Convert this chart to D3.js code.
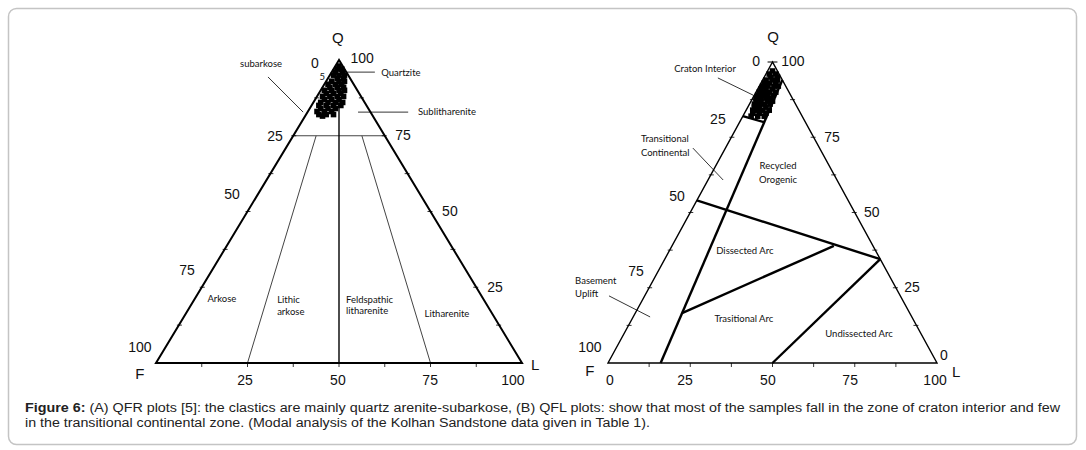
<!DOCTYPE html>
<html>
<head>
<meta charset="utf-8">
<script src="https://cdnjs.cloudflare.com/ajax/libs/d3/7.8.5/d3.min.js"></script>
<style>
  body { margin: 0; background: #fff; }
  svg { display: block; }
</style>
</head>
<body>
<div id="chart"></div>
<script>
// ---- data: QFR plot (A), percentages Q / F / R
var qfrQ = [98, 97, 97, 96, 96, 95, 95, 95, 94, 94, 93, 93, 93, 92, 92, 92, 91, 91, 91, 90, 90, 90, 90, 89, 89, 89, 88, 88, 88, 88, 87, 87, 87, 86, 86, 86, 86, 85, 85, 85, 85, 84, 84, 84, 83, 83, 83, 82, 82, 82, 81.5];
var qfrF = [1, 2, 0.75, 3, 1, 2.5, 1, 4, 3.5, 1.75, 5.5, 3.5, 2, 7, 5, 3.25, 7, 5, 3.25, 9, 7, 5, 3.5, 9, 7, 5, 10.5, 8.5, 6.5, 4.75, 10.5, 8.5, 6.5, 12, 10, 8, 6, 13, 11, 9, 7, 13, 11, 9, 14.5, 12.5, 10.5, 14.5, 12.5, 10.5, 13.75];
var qfrR = [1, 1, 2.25, 1, 3, 2.5, 4, 1, 2.5, 4.25, 1.5, 3.5, 5, 1, 3, 4.75, 2, 4, 5.75, 1, 3, 5, 6.5, 2, 4, 6, 1.5, 3.5, 5.5, 7.25, 2.5, 4.5, 6.5, 2, 4, 6, 8, 2, 4, 6, 8, 3, 5, 7, 2.5, 4.5, 6.5, 3.5, 5.5, 7.5, 4.75];

// ---- data: QFL plot (B), percentages Q / F / L
var qflQ = [97, 96, 96, 95, 95, 94, 94, 94, 93, 93, 93, 92, 92, 92, 92, 91, 91, 91, 90, 90, 90, 90, 89, 89, 89, 89, 88, 88, 88, 88, 87, 87, 87, 87, 86, 86, 86, 86, 85, 85, 85, 84, 84, 84, 84, 83, 83, 83, 82, 82, 82];
var qflF = [1.5, 3, 1, 3, 1, 5, 3, 1.5, 6, 4.5, 2.5, 7, 5.5, 3.5, 2.25, 8, 6.5, 4.5, 9, 7.5, 6, 4, 10, 8.5, 7, 5.25, 11, 9.5, 8, 6.5, 11.5, 10, 8, 6.5, 12.5, 11, 9.5, 7.75, 13, 11.5, 9.5, 14, 12.5, 11, 9, 14.5, 12.5, 10.5, 15.5, 13.5, 11.5];
var qflL = [1.5, 1, 3, 2, 4, 1, 3, 4.5, 1, 2.5, 4.5, 1, 2.5, 4.5, 5.75, 1, 2.5, 4.5, 1, 2.5, 4, 6, 1, 2.5, 4, 5.75, 1, 2.5, 4, 5.5, 1.5, 3, 5, 6.5, 1.5, 3, 4.5, 6.25, 2, 3.5, 5.5, 2, 3.5, 5, 7, 2.5, 4.5, 6.5, 2.5, 4.5, 6.5];

// field boundaries, [Q, F, L] at each end
var qfrBounds = [
  [[75, 25, 0], [75, 0, 25]],
  [[95, 2.5, 2.5], [0, 50, 50]],
  [[75, 18.75, 6.25], [0, 75, 25]],
  [[75, 6.25, 18.75], [0, 25, 75]]
];
var qflBounds = [
  [[94, 0, 6], [0, 84, 16]],
  [[82, 18, 0], [80, 12.6, 7.4]],
  [[54, 46, 0], [34.5, 0, 65.5]],
  [[16.6, 69.2, 14.2], [38.9, 11.9, 49.2]],
  [[34.5, 0, 65.5], [0, 50, 50]]
];

var tickValues = [12.5, 25, 37.5, 50, 62.5, 75, 87.5];
var tickLabels = ["0", "25", "50", "75", "100"];

var caption1 = "(A) QFR plots [5]: the clastics are mainly quartz arenite-subarkose, (B) QFL plots: show that most of the samples fall in the zone of craton interior and few";
var caption2 = "in the transitional continental zone. (Modal analysis of the Kolhan Sandstone data given in Table 1).";

// ---- layout
var W = 1086, H = 450;
var numFont = "Liberation Sans, Arial, sans-serif";
var noteFont = "Lato, Open Sans, sans-serif";

var svg = d3.select("#chart").append("svg")
  .attr("width", W)
  .attr("height", H);

svg.append("rect")
  .attr("x", 8.5).attr("y", 8.5)
  .attr("width", 1068).attr("height", 436)
  .attr("rx", 8)
  .attr("fill", "#fff")
  .attr("stroke", "#c4c4c4")
  .attr("stroke-width", 1.5);

var Ternary = function(opt) {
  this.x = d3.scaleLinear().domain([0, 100]).range([opt.left, opt.right]);
  this.y = d3.scaleLinear().domain([0, 100]).range([opt.base, opt.apex]);
  this.g = svg.append("g");
};

// q, f, l -> pixel
Ternary.prototype.pt = function(q, f, l) {
  return [this.x(l + q / 2), this.y(q)];
};

Ternary.prototype.frame = function(width) {
  var that = this;
  var corners = [[100, 0, 0], [0, 100, 0], [0, 0, 100]].map(function(c) {
    return that.pt(c[0], c[1], c[2]);
  });
  this.g.append("path")
    .attr("d", "M" + corners.join("L") + "Z")
    .attr("fill", "none")
    .attr("stroke", "#000")
    .attr("stroke-width", width)
    .attr("stroke-linejoin", "miter");
};

Ternary.prototype.ticks = function() {
  var that = this;
  var segs = [];
  tickValues.forEach(function(t) {
    var a = that.pt(100 - t, t, 0);   // left edge
    var b = that.pt(t, 0, 100 - t);   // right edge
    var c = that.pt(0, 100 - t, t);   // base
    segs.push([[a[0] - 2, a[1]], [a[0] + 3, a[1]]]);
    segs.push([[b[0] - 3, b[1]], [b[0] + 2, b[1]]]);
    segs.push([[c[0], c[1]], [c[0], c[1] + 4]]);
  });
  this.g.selectAll(".tick").data(segs).enter().append("line")
    .attr("class", "tick")
    .attr("x1", function(d) { return d[0][0]; })
    .attr("y1", function(d) { return d[0][1]; })
    .attr("x2", function(d) { return d[1][0]; })
    .attr("y2", function(d) { return d[1][1]; })
    .attr("stroke", "#000")
    .attr("stroke-width", 0.8);
};

Ternary.prototype.bounds = function(list, styles) {
  var that = this;
  this.g.selectAll(".bound").data(list).enter().append("line")
    .attr("class", "bound")
    .each(function(d, i) {
      var p1 = that.pt(d[0][0], d[0][1], d[0][2]);
      var p2 = that.pt(d[1][0], d[1][1], d[1][2]);
      d3.select(this)
        .attr("x1", p1[0]).attr("y1", p1[1])
        .attr("x2", p2[0]).attr("y2", p2[1])
        .attr("stroke", styles[i].c)
        .attr("stroke-width", styles[i].w);
    });
};

Ternary.prototype.points = function(Q, F, L) {
  var that = this;
  var pts = Q.map(function(q, i) { return that.pt(q, F[i], L[i]); });
  this.g.selectAll(".pt").data(pts).enter().append("rect")
    .attr("class", "pt")
    .attr("x", function(d) { return d[0] - 2.8; })
    .attr("y", function(d) { return d[1] - 2.8; })
    .attr("width", 5.6)
    .attr("height", 5.6)
    .attr("fill", "#000");
};

// labels placed with (b = position along base, q) through the scales
Ternary.prototype.labels = function(list, font, size) {
  var that = this;
  this.g.selectAll(null).data(list).enter().append("text")
    .attr("x", function(d) { return that.x(d.b); })
    .attr("y", function(d) { return that.y(d.q); })
    .attr("text-anchor", function(d) { return d.a || "middle"; })
    .style("font-family", font)
    .style("font-size", function(d) { return (d.s || size) + "px"; })
    .attr("fill", "#111")
    .text(function(d) { return d.t; });
};

Ternary.prototype.leaders = function(list) {
  var that = this;
  this.g.selectAll(null).data(list).enter().append("line")
    .attr("x1", function(d) { return that.x(d[0]); })
    .attr("y1", function(d) { return that.y(d[1]); })
    .attr("x2", function(d) { return that.x(d[2]); })
    .attr("y2", function(d) { return that.y(d[3]); })
    .attr("stroke", "#000")
    .attr("stroke-width", 0.8);
};

// ---- (A) QFR
var A = new Ternary({ left: 156, right: 522, base: 363, apex: 60 });
A.bounds(qfrBounds, [
  { c: "#444", w: 1 }, { c: "#000", w: 1.4 }, { c: "#444", w: 1 }, { c: "#444", w: 1 }
]);
A.frame(2);
A.ticks();
A.points(qfrQ, qfrF, qfrR);
A.labels([
  { t: "Q", b: 49.7, q: 105.6, s: 15 },
  { t: "F", b: -4.4, q: -5.3, s: 15 },
  { t: "L", b: 103.6, q: -2.3, s: 15 },
  { t: tickLabels[0], b: 43.4, q: 97.4 },
  { t: tickLabels[1], b: 32.5, q: 73.3 },
  { t: tickLabels[2], b: 20.8, q: 54.1 },
  { t: tickLabels[3], b: 8.5, q: 29.0 },
  { t: tickLabels[4], b: -4.4, q: 3.6 },
  { t: tickLabels[4], b: 56.3, q: 99.0 },
  { t: tickLabels[3], b: 67.5, q: 73.6 },
  { t: tickLabels[2], b: 80.3, q: 48.5 },
  { t: tickLabels[1], b: 92.6, q: 23.4 },
  { t: tickLabels[1], b: 24.3, q: -7.3 },
  { t: tickLabels[2], b: 49.7, q: -7.3 },
  { t: tickLabels[3], b: 74.9, q: -7.3 },
  { t: tickLabels[4], b: 97.5, q: -7.3 }
], numFont, 14);
A.labels([
  { t: "subarkose", b: 28.7, q: 97.7 },
  { t: "Quartzite", b: 66.9, q: 94.7 },
  { t: "Sublitharenite", b: 79.5, q: 81.8 },
  { t: "5", b: 45.4, q: 93.4 },
  { t: "Arkose", b: 18.0, q: 20.1 },
  { t: "Lithic", b: 33.1, q: 19.8, a: "start" },
  { t: "arkose", b: 33.1, q: 15.8, a: "start" },
  { t: "Feldspathic", b: 51.9, q: 19.8, a: "start" },
  { t: "litharenite", b: 51.9, q: 16.2, a: "start" },
  { t: "Litharenite", b: 79.5, q: 15.2 }
], noteFont, 9.5);
A.leaders([
  [30.6, 94.4, 40.2, 82.8],
  [52.2, 96.0, 59.8, 96.0],
  [55.2, 82.8, 68.9, 82.8]
]);

// ---- (B) QFL
var B = new Ternary({ left: 608, right: 937, base: 363, apex: 62 });
B.frame(1.4);
B.ticks();
B.bounds(qflBounds, [
  { c: "#000", w: 2.4 }, { c: "#000", w: 2.4 }, { c: "#000", w: 2.4 }, { c: "#000", w: 2.4 }, { c: "#000", w: 2.4 }
]);
B.points(qflQ, qflF, qflL);
B.g.append("line")
  .attr("x1", B.x(48.5)).attr("x2", B.x(51.5))
  .attr("y1", B.y(100)).attr("y2", B.y(100))
  .attr("stroke", "#000").attr("stroke-width", 1);
B.labels([
  { t: "Q", b: 50.2, q: 106.6, s: 15 },
  { t: "F", b: -5.5, q: -4.3, s: 15 },
  { t: "L", b: 105.8, q: -4.7, s: 15 },
  { t: tickLabels[0], b: 45.0, q: 98.7 },
  { t: tickLabels[4], b: 56.2, q: 98.7 },
  { t: tickLabels[1], b: 33.4, q: 79.4 },
  { t: tickLabels[2], b: 21.0, q: 53.8 },
  { t: tickLabels[3], b: 8.5, q: 28.9 },
  { t: tickLabels[4], b: -5.5, q: 3.7 },
  { t: tickLabels[0], b: 0.6, q: -7.3 },
  { t: tickLabels[1], b: 23.4, q: -7.3 },
  { t: tickLabels[2], b: 48.6, q: -7.3 },
  { t: tickLabels[3], b: 73.6, q: -7.3 },
  { t: tickLabels[4], b: 99.4, q: -7.3 },
  { t: tickLabels[3], b: 68.1, q: 73.4 },
  { t: tickLabels[2], b: 80.2, q: 48.5 },
  { t: tickLabels[1], b: 92.4, q: 23.6 },
  { t: tickLabels[0], b: 102.1, q: 1.0 }
], numFont, 14);
B.labels([
  { t: "Craton Interior", b: 29.5, q: 96.7 },
  { t: "Transitional", b: 10.0, q: 73.4, a: "start" },
  { t: "Continental", b: 10.0, q: 68.8, a: "start" },
  { t: "Recycled", b: 51.7, q: 64.5 },
  { t: "Orogenic", b: 51.7, q: 59.8 },
  { t: "Dissected Arc", b: 41.6, q: 36.2 },
  { t: "Basement", b: -10.0, q: 26.2, a: "start" },
  { t: "Uplift", b: -10.0, q: 21.9, a: "start" },
  { t: "Trasitional Arc", b: 41.3, q: 13.6 },
  { t: "Undissected Arc", b: 76.3, q: 8.6 }
], noteFont, 9.5);
B.leaders([
  [33.4, 94.7, 44.1, 89.0],
  [25.8, 71.4, 35.0, 60.8],
  [0.3, 22.3, 12.8, 15.3]
]);

// ---- caption (source text is horizontally stretched)
var cap = svg.append("g")
  .style("font-family", numFont)
  .style("font-size", "12px")
  .attr("fill", "#222");
var t1 = cap.append("text").attr("x", 25).attr("y", 412)
  .attr("textLength", 1035).attr("lengthAdjust", "spacingAndGlyphs");
t1.append("tspan").style("font-weight", "bold").text("Figure 6:");
t1.append("tspan").text(" " + caption1);
cap.append("text").attr("x", 25).attr("y", 427)
  .attr("textLength", 625).attr("lengthAdjust", "spacingAndGlyphs")
  .text(caption2);
</script>
</body>
</html>
